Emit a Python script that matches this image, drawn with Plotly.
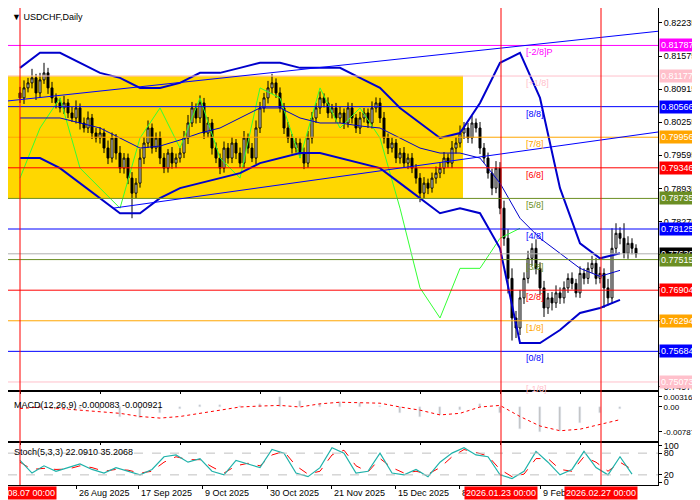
import pandas as pd
import plotly.graph_objects as go
from plotly.subplots import make_subplots

# daily closes, USDCHF
closes = [0.8074,0.8094,0.8104,0.8114,0.8084,0.8110,0.8124,0.8094,0.8074,0.8064,
          0.8054,0.8064,0.8044,0.8034,0.8054,0.8024,0.8014,0.8034,0.8004,0.7994,
          0.8004,0.7974,0.7954,0.7994,0.7964,0.7934,0.7954,0.7914,0.7884,0.7904,
          0.7954,0.7984,0.8014,0.7974,0.7994,0.7954,0.7934,0.7964,0.7944,0.7954,
          0.7964,0.7994,0.8024,0.8054,0.8034,0.8064,0.8004,0.8024,0.7974,0.7954,
          0.7934,0.7974,0.7954,0.7984,0.7964,0.7944,0.7994,0.7974,0.7954,0.8014,
          0.8054,0.8074,0.8094,0.8104,0.8084,0.8054,0.8014,0.7994,0.7974,0.7984,
          0.7964,0.7944,0.7994,0.8034,0.8054,0.8074,0.8064,0.8044,0.8054,0.8034,
          0.8044,0.8024,0.8054,0.8034,0.8014,0.8034,0.8044,0.8024,0.8054,0.8064,
          0.8034,0.7994,0.7974,0.7984,0.7954,0.7964,0.7944,0.7954,0.7934,0.7914,
          0.7884,0.7904,0.7894,0.7914,0.7924,0.7934,0.7954,0.7944,0.7974,0.7984,
          0.8004,0.8014,0.7994,0.8024,0.8014,0.7974,0.7954,0.7924,0.7894,0.7934,
          0.7854,0.7794,0.7714,0.7635,0.7615,0.7675,0.7714,0.7754,0.7774,0.7734,
          0.7695,0.7655,0.7675,0.7665,0.7685,0.7675,0.7695,0.7714,0.7704,0.7685,
          0.7724,0.7714,0.7734,0.7744,0.7714,0.7724,0.7695,0.7675,0.7774,0.7804,
          0.7794,0.7764,0.7784,0.7774,0.7763]
first_open = 0.8084
# wick lengths in pips above / below the body
wick_up = [12,15,10,18,8,14,20,10,12,9, 10,14,8,12,15,9,11,13,8,10,
           12,9,15,11,8,14,10,9,12,10, 18,12,15,9,11,13,10,8,12,9,
           10,14,16,12,9,15,10,12,8,11, 9,13,10,12,8,11,14,9,10,15,
           12,10,14,18,9,11,10,12,8,10, 9,11,14,12,10,13,9,11,8,10,
           12,9,11,10,8,12,10,9,13,11, 10,12,9,11,8,10,12,9,10,8,
           10,12,9,11,13,10,12,9,14,12, 15,12,10,14,9,12,10,11,9,14,
           12,15,18,20,14,16,12,15,10,18, 12,14,10,12,15,11,13,10,12,9,
           14,10,12,15,11,13,10,18,40,20, 12,30,14,10,8]
wick_dn = [10,12,9,11,14,10,8,12,10,11, 9,12,10,8,11,13,9,10,12,9,
           11,10,12,9,13,10,11,12,50,10, 9,12,10,11,8,12,10,9,11,10,
           9,10,12,8,11,10,12,9,13,10, 12,9,11,10,12,9,10,11,8,12,
           10,9,11,12,10,9,12,10,11,9, 10,12,9,11,10,12,9,10,11,9,
           10,12,9,11,10,12,9,10,11,9, 10,11,12,9,10,11,9,12,10,11,
           18,10,12,9,11,10,12,9,10,11, 9,12,10,11,9,12,10,11,14,10,
           12,15,30,45,20,14,12,10,15,12, 14,18,12,15,10,12,11,10,12,9,
           10,12,11,9,12,10,40,15,12,10, 12,10,11,12,8]

# indicators sampled every 5 bars (price)
bb_upper = [0.8134,0.8164,0.8164,0.8144,0.8124,0.8114,0.8094,0.8094,0.8104,0.8124,
            0.8124,0.8134,0.8144,0.8144,0.8134,0.8134,0.8134,0.8114,0.8094,0.8054,
            0.8024,0.7994,0.8004,0.8064,0.8144,0.8164,0.8074,0.7894,0.7784,0.7754,0.7764]
bb_mid = [0.8034,0.8034,0.8034,0.8024,0.8014,0.7994,0.7974,0.7978,0.7990,0.8004,
          0.8014,0.8034,0.8054,0.8054,0.8034,0.8024,0.8024,0.8018,0.8014,0.7994,
          0.7974,0.7964,0.7964,0.7954,0.7904,0.7834,0.7794,0.7764,0.7734,0.7718,0.7730]
bb_lower = [0.7954,0.7954,0.7934,0.7904,0.7874,0.7844,0.7844,0.7874,0.7894,0.7904,
            0.7914,0.7924,0.7944,0.7954,0.7964,0.7964,0.7954,0.7944,0.7934,0.7904,
            0.7874,0.7844,0.7854,0.7844,0.7774,0.7585,0.7585,0.7611,0.7645,0.7655,0.7671]
green_line = [0.7914,0.8014,0.8074,0.7934,0.7894,0.7854,0.7994,0.8054,0.7974,0.8074,
              0.7954,0.7914,0.8094,0.8074,0.7954,0.8094,0.8014,0.8054,0.7994,0.7854,
              0.7695,0.7635,0.7734,0.7734,0.7794,0.7814]

macd_hist = [0.0003,0.001,0.0005,-0.0005,-0.001,-0.003,-0.0035,-0.002,-0.0005,0.0005,
             0.0007,0.0002,0.001,0.003,0.002,0.001,0.0015,0.0012,0.0003,-0.002,
             -0.003,-0.0025,-0.001,0.001,-0.002,-0.007,-0.008,-0.0075,-0.005,-0.002,-0.0005]
macd_signal = [-0.0005,0.0,-0.0005,-0.001,-0.0015,-0.002,-0.003,-0.0035,-0.003,-0.002,
               -0.001,0.0,0.0003,0.0005,0.0,0.001,0.0015,0.0014,0.0012,0.0,
               -0.001,-0.0025,-0.002,0.0,0.0005,-0.003,-0.006,-0.0075,-0.007,-0.0055,-0.004]

# stochastic sampled every 3 bars
stoch_main = [60,25,45,30,40,50,35,25,40,30,20,35,70,75,55,65,30,20,60,50,
              40,90,80,25,15,40,95,80,25,30,80,25,20,35,15,55,80,95,75,70,
              20,10,30,85,55,20,35,85,40,20,70,22]
stoch_signal = [55,35,38,35,36,45,40,30,35,33,25,30,55,70,62,62,42,25,45,52,
                45,75,85,45,22,30,75,88,45,28,65,40,25,30,22,40,70,90,82,72,
                35,15,22,65,65,35,30,70,55,30,55,35]

murrey_levels = [0.81787,0.81177,0.80566,0.79956,0.79346,0.78735,0.78125,0.77515,0.76904,0.76294,0.75684,0.75073]
murrey_names = ["[-2/8]P","[+1/8]","[8/8]","[7/8]","[6/8]","[5/8]","[4/8]","[3/8]","[2/8]","[1/8]","[0/8]","[-1/8]"]
murrey_colors = ["#ff00ff","#ffc0cb","#0000ff","#ffa500","#ff0000","#6b8e23","#0000ff","#6b8e23","#ff0000","#ffa500","#0000ff","#ffc0cb"]

price_ticks = [0.82235,0.81575,0.80915,0.80255,0.79595,0.78935,0.78275,0.77615,0.76955,0.76295,0.75635,0.74975]
date_ticks = [14, 29.5, 45.5, 61.75, 77.8, 93.75, 109.75, 130]
date_labels = ["26 Aug 2025","17 Sep 2025","9 Oct 2025","30 Oct 2025","21 Nov 2025","15 Dec 2025","8 Jan 2026","9 Feb 2026"]
marker_bars = [0, 120.25, 145.25]
marker_labels = ["2025.08.07 00:00","2026.01.23 00:00","2026.02.27 00:00"]

n = len(closes)
idx = list(range(n))
opens = [first_open] + closes[:-1]
highs = [max(o, c) + w * 0.0001 for o, c, w in zip(opens, closes, wick_up)]
lows = [min(o, c) - w * 0.0001 for o, c, w in zip(opens, closes, wick_dn)]
idx5 = list(range(0, n, 5))
idx3 = list(range(0, n, 3))

H = 477.0
def dom(top_px, bot_px):
    return [(H - bot_px) / H, (H - top_px) / H]

fig = make_subplots(rows=3, cols=1, shared_xaxes=True, vertical_spacing=0)
FAM = "Liberation Sans"
font = dict(family=FAM, size=9, color="black")
XR = [-3, 159.5]

fig.add_shape(type="rect", x0=XR[0], x1=110.75, y0=0.7874, y1=0.8118, fillcolor="#ffd700",
              line_width=0, layer="below", row=1, col=1)
for lvl, col in zip(murrey_levels, murrey_colors):
    fig.add_shape(type="line", x0=XR[0], x1=XR[1], y0=lvl, y1=lvl, line=dict(color=col, width=1), row=1, col=1)
fig.add_shape(type="line", x0=XR[0], x1=XR[1], y0=closes[-1], y1=closes[-1], line=dict(color="#b0b0b0", width=1), row=1, col=1)
fig.add_shape(type="line", x0=XR[0], x1=XR[1], y0=0.8068, y1=0.8207, line=dict(color="blue", width=1), row=1, col=1)
fig.add_shape(type="line", x0=23.25, x1=XR[1], y0=0.7854, y1=0.8006, line=dict(color="blue", width=1), row=1, col=1)

fig.add_trace(go.Scatter(x=idx5[:len(green_line)], y=green_line, mode="lines", line=dict(color="#33ff33", width=1)), row=1, col=1)
fig.add_trace(go.Scatter(x=idx5, y=bb_upper, mode="lines", line=dict(color="#0000cc", width=2)), row=1, col=1)
fig.add_trace(go.Scatter(x=idx5, y=bb_lower, mode="lines", line=dict(color="#0000cc", width=2)), row=1, col=1)
fig.add_trace(go.Scatter(x=idx5, y=bb_mid, mode="lines", line=dict(color="#0000cc", width=1)), row=1, col=1)
fig.add_trace(go.Candlestick(x=idx, open=opens, high=highs, low=lows, close=closes,
                             increasing=dict(line=dict(color="black", width=1), fillcolor="white"),
                             decreasing=dict(line=dict(color="black", width=1), fillcolor="black"),
                             whiskerwidth=0), row=1, col=1)

fig.add_trace(go.Bar(x=idx5, y=macd_hist, marker_color="#c0c0c0", width=0.5), row=2, col=1)
fig.add_trace(go.Scatter(x=idx5, y=macd_signal, mode="lines", line=dict(color="red", width=1, dash="dot")), row=2, col=1)

for lvl in [20, 80]:
    fig.add_shape(type="line", x0=XR[0], x1=XR[1], y0=lvl, y1=lvl, line=dict(color="#c0c0c0", width=1, dash="dash"), row=3, col=1)
fig.add_trace(go.Scatter(x=idx3, y=stoch_signal, mode="lines", line=dict(color="red", width=1, dash="dash")), row=3, col=1)
fig.add_trace(go.Scatter(x=idx3, y=stoch_main, mode="lines", line=dict(color="#20b2aa", width=1.2)), row=3, col=1)

for b in marker_bars:
    fig.add_shape(type="line", x0=b, x1=b, y0=0, y1=1, xref="x", yref="paper", line=dict(color="red", width=1))

lab_font = dict(family=FAM, size=9, color="white")
ann = []
for lvl, name, col in zip(murrey_levels, murrey_names, murrey_colors):
    ann.append(dict(x=126, y=lvl, xref="x", yref="y", text=name, showarrow=False, xanchor="left",
                    yanchor="top", font=dict(family=FAM, size=9, color=col)))
ann.append(dict(x=1, y=closes[-1], xref="paper", yref="y", text=f"{closes[-1]:.5f}", showarrow=False,
                xanchor="left", xshift=1, bgcolor="black", font=lab_font, borderpad=1))
for lvl, col in zip(murrey_levels, murrey_colors):
    ann.append(dict(x=1, y=lvl, xref="paper", yref="y", text=f"{lvl:.5f}", showarrow=False, xanchor="left",
                    xshift=1, bgcolor=col, font=lab_font, borderpad=1))
ann.append(dict(x=0, y=1, xref="paper", yref="paper", text="▼ USDCHF,Daily", showarrow=False, xanchor="left",
                yanchor="top", xshift=2, yshift=-2, font=font))
ann.append(dict(x=0, y=dom(384, 433)[1], xref="paper", yref="paper", text="MACD(12,26,9) -0.000083 -0.000921",
                showarrow=False, xanchor="left", yanchor="top", xshift=4, yshift=-6, font=font))
ann.append(dict(x=0, y=dom(435, H)[1], xref="paper", yref="paper", text="Stoch(5,3,3) 22.0910 35.2068",
                showarrow=False, xanchor="left", yanchor="top", xshift=4, yshift=-2, font=font))
for t, lab in zip(date_ticks, date_labels):
    ann.append(dict(x=t, y=0, xref="x", yref="paper", text=lab, showarrow=False, xanchor="left",
                    yanchor="top", xshift=1, yshift=-1, font=font))
for b, lab in zip(marker_bars, marker_labels):
    ann.append(dict(x=b, y=0, xref="x", yref="paper", text=lab, showarrow=False, xanchor="center",
                    yanchor="top", yshift=-1, bgcolor="red", font=lab_font))

axis_style = dict(showgrid=False, zeroline=False, showline=True, linecolor="black", mirror=True,
                  ticks="outside", ticklen=3, tickcolor="black", automargin=False)
fig.update_layout(
    width=700, height=500, margin=dict(l=0, r=50, t=0, b=23),
    paper_bgcolor="white", plot_bgcolor="white", showlegend=False, annotations=ann,
    xaxis=dict(domain=[0, 1], range=XR, rangeslider=dict(visible=False), showticklabels=False, tickfont=font, **axis_style),
    xaxis2=dict(range=XR, showticklabels=False, tickfont=font, **axis_style),
    xaxis3=dict(range=XR, tickvals=date_ticks, ticktext=[""] * len(date_ticks), tickfont=font, **axis_style),
    yaxis=dict(domain=dom(0, 382), side="right", range=[0.74913, 0.82534], tickvals=price_ticks,
               ticktext=[f"{v:.5f}" for v in price_ticks], tickfont=font, **axis_style),
    yaxis2=dict(domain=dom(384, 433), side="right", range=[-0.01073, 0.00473],
                tickvals=[0.003163, 0.0, -0.007875], ticktext=["0.003163", "0.00", "-0.007875"],
                tickfont=dict(family=FAM, size=8, color="black"), **axis_style),
    yaxis3=dict(domain=dom(435, H), side="right", range=[-8, 108],
                tickvals=[100, 80, 20, 0], ticktext=["100", "80", "20", "0"], tickfont=font, **axis_style),
    bargap=0,
)
fig.update_xaxes(rangeslider_visible=False)
fig.write_html("out.html")
